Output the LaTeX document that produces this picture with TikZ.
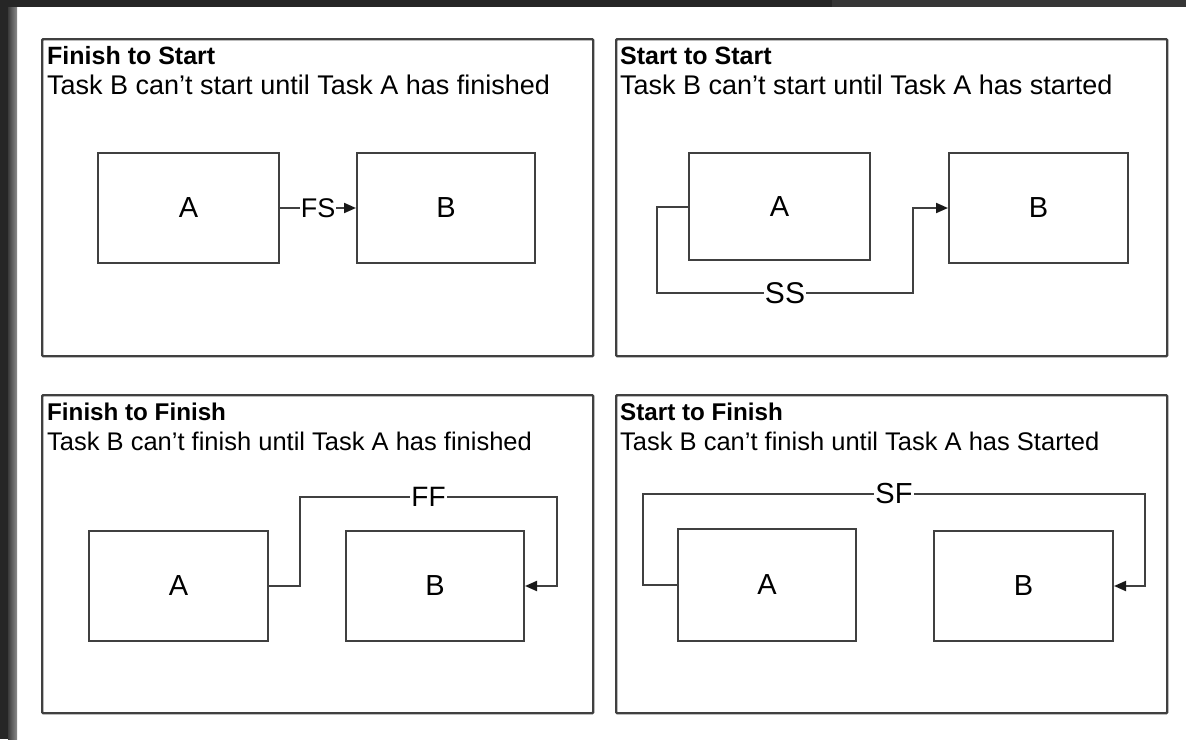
\documentclass[tikz,border=0pt]{standalone}
\usepackage{fontspec}
\setmainfont{Liberation Sans}
\usetikzlibrary{arrows.meta}
\definecolor{edge}{HTML}{404040}
\definecolor{frame}{HTML}{262626}
\definecolor{framelight}{HTML}{363636}
\begin{document}
\begin{tikzpicture}[x=1pt,y=-1pt,
  panel/.style={draw=edge,line width=2.4pt,rounded corners=1pt,inner sep=0pt,anchor=north west},
  task/.style={draw=edge,line width=2pt,inner sep=0pt,anchor=north west,
    font=\fontsize{29}{32}\selectfont},
  conn/.style={draw=edge,line width=2pt,-{Triangle[length=12pt,width=10pt,fill=black!90,color=black!90]}},
  lbl/.style={fill=white,inner sep=1pt},
  ttl/.style={anchor=base west,inner sep=0pt,font=\fontsize{25}{30}\selectfont\bfseries},
  ttlb/.style={ttl,font=\fontsize{24.2}{30}\selectfont\bfseries},
  sub/.style={anchor=base west,inner sep=0pt,font=\fontsize{27}{30}\selectfont},
  subb/.style={sub,font=\fontsize{25.5}{30}\selectfont}]
\useasboundingbox (0,0) rectangle (1186,739);
% page background and dark window frame
\fill[white] (0,0) rectangle (1186,739);
\fill[frame] (0,0) rectangle (832,7);
\fill[framelight] (832,0) rectangle (1186,7);
\fill[frame] (0,0) rectangle (8,739);
\shade[left color=frame!90!white,right color=black!45] (8,7) rectangle (17,739);

% four panels
\node[panel,minimum width=551pt,minimum height=317pt] (p1) at (41,38) {};
\node[panel,minimum width=551pt,minimum height=317pt] (p2) at (615,38) {};
\node[panel,minimum width=551pt,minimum height=318pt] (p3) at (41,394) {};
\node[panel,minimum width=551pt,minimum height=318pt] (p4) at (615,394) {};

% headings
\node[ttl] (t1) at (47,64) {Finish to Start};
\node[sub] (d1) at (47,94) {Task B can’t start until Task A has finished};
\node[ttl] (t2) at (620,64) {Start to Start};
\node[sub] (d2) at (620,94) {Task B can’t start until Task A has started};
\node[ttlb] (t3) at (47,420) {Finish to Finish};
\node[subb] (d3) at (47,450) {Task B can’t finish until Task A has finished};
\node[ttlb] (t4) at (620,420) {Start to Finish};
\node[subb] (d4) at (620,450) {Task B can’t finish until Task A has Started};

% Finish to Start
\node[task,minimum width=181pt,minimum height=110pt] (a1) at (97,152) {A};
\node[task,minimum width=178pt,minimum height=110pt] (b1) at (356,152) {B};
\draw[conn] (a1.east) -- node[lbl,font=\fontsize{27}{30}\selectfont] {FS} (b1.west);

% Start to Start
\node[task,minimum width=181pt,minimum height=107pt] (a2) at (688,152) {A};
\node[task,minimum width=179pt,minimum height=110pt] (b2) at (948,152) {B};
\coordinate (s1) at (657,293);
\coordinate (s2) at (913,293);
\draw[conn] (a2.west) -| (s1) -- node[lbl,font=\fontsize{30}{32}\selectfont] {SS} (s2) |- (b2.west);

% Finish to Finish
\node[task,minimum width=179pt,minimum height=110pt] (a3) at (88,530) {A};
\node[task,minimum width=178pt,minimum height=110pt] (b3) at (345,530) {B};
\coordinate (f1) at (300,497);
\coordinate (f2) at (557,497);
\draw[conn] (a3.east) -| (f1) -- node[lbl,font=\fontsize{28}{30}\selectfont] {FF} (f2) |- (b3.east);

% Start to Finish
\node[task,minimum width=178pt,minimum height=112pt] (a4) at (677,528) {A};
\node[task,minimum width=179pt,minimum height=110pt] (b4) at (933,530) {B};
\coordinate (g1) at (643,494);
\coordinate (g2) at (1145,494);
\draw[conn] (a4.west) -| (g1) -- node[lbl,font=\fontsize{29}{30}\selectfont] {SF} (g2) |- (b4.east);
\end{tikzpicture}
\end{document}
